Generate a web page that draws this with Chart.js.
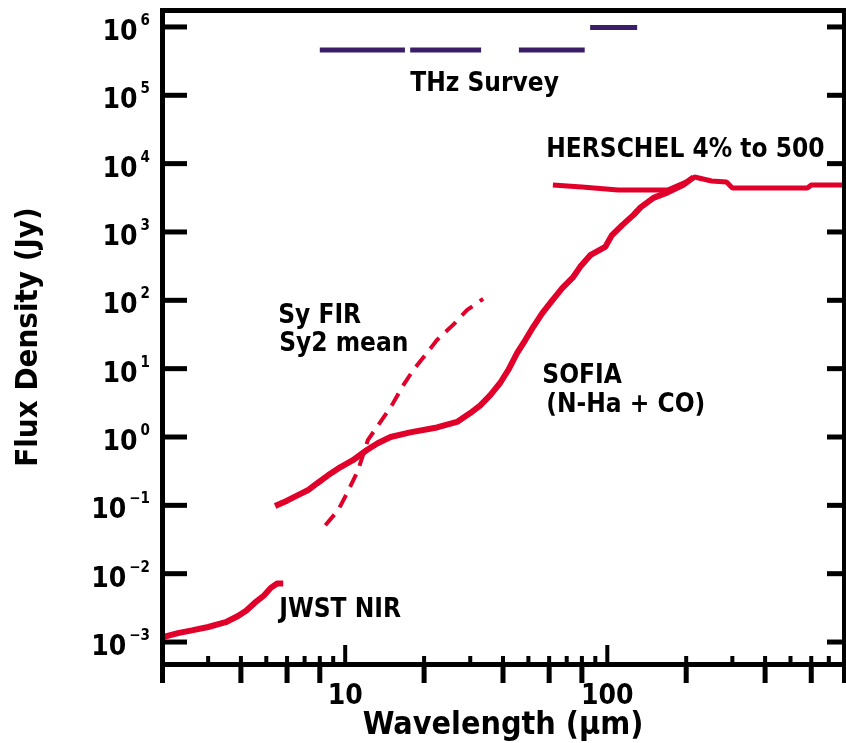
<!DOCTYPE html>
<html>
<head>
<meta charset="utf-8">
<script src="https://cdn.jsdelivr.net/npm/chart.js@4.4.1/dist/chart.umd.min.js"></script>
<style>
  html, body { margin: 0; padding: 0; background: #fff; }
</style>
</head>
<body>
<canvas id="myChart" width="846" height="743"></canvas>
<script>
// near-IR band piece
const waveBand = [2.0, 2.3, 2.6, 3.0, 3.5, 3.9, 4.2, 4.5, 4.9, 5.2, 5.5, 5.8]
const fluxBand = [0.00117, 0.00135, 0.00148, 0.00166, 0.00195, 0.0024, 0.0029, 0.0037, 0.0048, 0.0062, 0.0072, 0.0072]

// main rising curve
const waveMain = [5.4, 6.0, 6.6, 7.2, 7.8, 8.6, 9.6, 10.7, 12.1, 13.3, 14.9, 17.7, 22.4, 26.7, 30, 32.7, 35.7, 39, 41.9,
  45.3, 48.6, 52.2, 56.5, 61.7, 67.3, 74.1, 78.8, 86.1, 98.2, 104, 114, 126, 134, 150, 170, 195, 213]
const fluxMain = [0.098, 0.117, 0.141, 0.166, 0.209, 0.275, 0.363, 0.457, 0.646, 0.81, 1.0, 1.17, 1.38, 1.66, 2.24, 2.88,
  4.07, 6.17, 9.55, 17, 26, 41, 65, 100, 151, 219, 309, 457, 603, 891, 1260, 1780, 2290, 3160, 3800, 4900, 6300]

// flat far-IR level
const waveFlat = [62, 80, 110, 170, 200, 215, 250, 285, 300, 580, 600, 800]
const fluxFlat = [4860, 4540, 4100, 4100, 5380, 6370, 5560, 5380, 4390, 4390, 4860, 4860]

// dashed reference curve
const waveDash = [8.4, 9.4, 10.2, 11.2, 12.2, 13.8, 15.1, 16.5, 18.2, 20.2, 22.4, 25.8, 29.2, 33.6]
const fluxDash = [0.051, 0.085, 0.155, 0.327, 0.90, 1.78, 2.95, 5.4, 9.6, 15.8, 26.3, 43.7, 72.4, 105]

// survey bands (purple bars)
const surveyStart = [8, 17.7, 46, 86]
const surveyEnd = [16.9, 33, 82, 130]
const surveyFlux = [4.6e5, 4.6e5, 4.6e5, 9.8e5]

// ticks
const xLabelTicks = [10, 100]
const xMinorTicks = [3, 4, 5, 6, 7, 8, 9, 20, 30, 40, 50, 60, 70, 80, 90, 200, 300, 400, 500, 600, 700]
const xOuterTicks = [4, 6, 8, 20, 40, 60, 80, 200, 400, 600]
const yExponents = [6, 5, 4, 3, 2, 1, 0, -1, -2, -3]

const RED = '#e1002a'
const PURPLE = '#3b1e68'
const FONT = "'Liberation Sans Narrow', 'DejaVu Sans Condensed', 'Liberation Sans', sans-serif"

function pts(w, f) {
  return w.map((x, i) => ({ x: x, y: f[i] }))
}

const surveySets = surveyStart.map((s, i) => ({
  data: [{ x: s, y: surveyFlux[i] }, { x: surveyEnd[i], y: surveyFlux[i] }],
  borderColor: PURPLE,
  borderWidth: 5,
  borderCapStyle: 'butt'
}))

const axesPlugin = {
  id: 'axesPlugin',
  afterDraw(chart) {
    const { ctx, chartArea: a, scales: { x, y } } = chart
    ctx.save()
    ctx.fillStyle = '#000'
    const below = a.bottom + 19
    // frame
    ctx.fillRect(a.left - 2, a.top - 2, a.right - a.left + 4, 5)
    ctx.fillRect(a.left - 2, a.top - 2, 5, below - a.top + 2)
    ctx.fillRect(a.right - 2, a.top - 2, 4, below - a.top + 2)
    ctx.fillRect(a.left - 2, a.bottom - 2, a.right - a.left + 4, 5)

    // y ticks + labels
    yExponents.forEach(e => {
      const py = y.getPixelForValue(Math.pow(10, e))
      ctx.fillRect(a.left, py - 2.5, 25, 5)
      ctx.fillRect(a.right - 17, py - 2.5, 17, 5)
      const exp = e < 0 ? '\u2212' + Math.abs(e) : String(e)
      ctx.textAlign = 'right'
      ctx.textBaseline = 'alphabetic'
      ctx.font = 'bold 15px ' + FONT
      const ew = ctx.measureText(exp).width
      ctx.fillText(exp, 150, py - 2)
      ctx.font = 'bold 28px ' + FONT
      ctx.fillText('10', 150 - ew - 3, py + 13)
    })

    // x ticks
    xMinorTicks.forEach(v => {
      const px = x.getPixelForValue(v)
      ctx.fillRect(px - 2, a.bottom - 8, 4, 8)
    })
    xLabelTicks.forEach(v => {
      const px = x.getPixelForValue(v)
      ctx.fillRect(px - 2, a.bottom - 19, 4, 19)
      ctx.font = 'bold 28px ' + FONT
      ctx.textAlign = 'center'
      ctx.fillText(String(v), px, a.bottom + 40)
    })
    xOuterTicks.forEach(v => {
      const px = x.getPixelForValue(v)
      ctx.fillRect(px - 2.5, a.bottom + 2, 5, 17)
    })

    // annotations
    ctx.textAlign = 'left'
    ctx.font = 'bold 26px ' + FONT
    const note = (text, w, f) => ctx.fillText(text, x.getPixelForValue(w), y.getPixelForValue(f))
    note('THz Survey', 17.7, 1.16e5)
    note('HERSCHEL 4% to 500', 58.5, 1.25e4)
    note('Sy FIR', 5.55, 46)
    note('Sy2 mean', 5.6, 18)
    note('SOFIA', 56.5, 6.1)
    note('(N-Ha + CO)', 58.5, 2.3)
    note('JWST NIR', 5.6, 2.3e-3)
    ctx.restore()
  }
}

const myChart = new Chart(document.getElementById('myChart').getContext('2d'), {
  type: 'scatter',
  data: {
    datasets: [
      { data: pts(waveBand, fluxBand), borderColor: RED, borderWidth: 6 },
      { data: pts(waveMain, fluxMain), borderColor: RED, borderWidth: 6 },
      { data: pts(waveFlat, fluxFlat), borderColor: RED, borderWidth: 5 },
      { data: pts(waveDash, fluxDash), borderColor: RED, borderWidth: 4, borderDash: [14, 9] },
      ...surveySets
    ]
  },
  options: {
    responsive: false,
    animation: false,
    showLine: true,
    layout: { padding: { top: 10, right: 2, left: 0, bottom: 0 } },
    elements: {
      point: { radius: 0, hoverRadius: 0 },
      line: { tension: 0, borderJoinStyle: 'bevel', fill: false }
    },
    plugins: {
      legend: { display: false },
      tooltip: { enabled: false }
    },
    scales: {
      x: {
        type: 'logarithmic',
        min: 2,
        max: 800,
        ticks: { display: false },
        grid: { display: false },
        border: { display: false },
        title: {
          display: true,
          text: 'Wavelength (\u03bcm)',
          color: '#000',
          font: { family: FONT, size: 32, weight: 'bold', lineHeight: 1 },
          padding: { top: 0, bottom: 1 }
        },
        afterFit: s => { s.height = 79 }
      },
      y: {
        type: 'logarithmic',
        min: 4.77e-4,
        max: 1.77e6,
        ticks: { display: false },
        grid: { display: false },
        border: { display: false },
        title: {
          display: true,
          text: 'Flux Density (Jy)',
          color: '#000',
          font: { family: FONT, size: 31, weight: 'bold', lineHeight: 1 },
          padding: { top: 13, bottom: 0 }
        },
        afterFit: s => { s.width = 162 }
      }
    }
  },
  plugins: [axesPlugin]
})
</script>
</body>
</html>
